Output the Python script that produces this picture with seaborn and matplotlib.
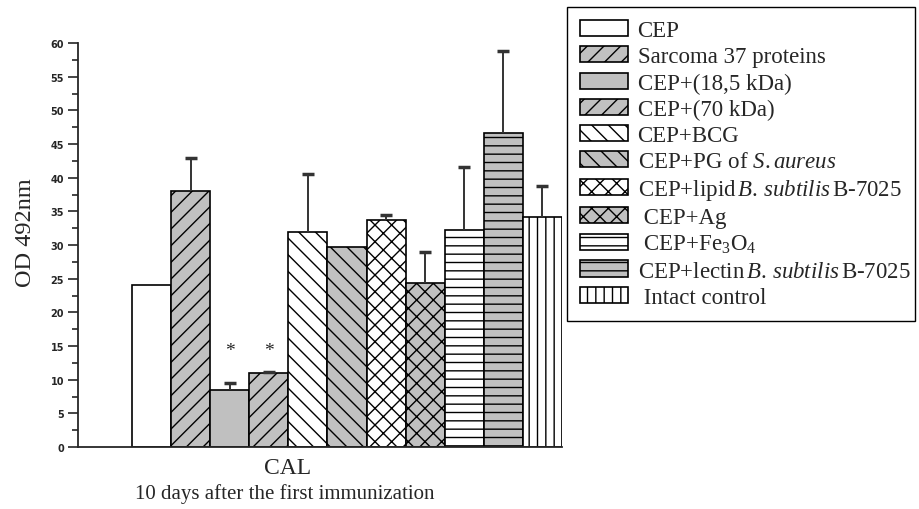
import numpy as np
import pandas as pd
import seaborn as sns
import matplotlib.pyplot as plt
from matplotlib.patches import Patch

# Datos (OD 492nm, CAL, 10 dias tras la primera inmunizacion)
grupos = ["CEP", "Sarcoma 37 proteins", "CEP+(18,5 kDa)", "CEP+(70 kDa)", "CEP+BCG",
          "CEP+PG of S.aureus", "CEP+lipid B.subtilis B-7025", "CEP+Ag", "CEP+Fe3O4",
          "CEP+lectin B.subtilis B-7025", "Intact control"]
valores = [24.0, 38.0, 8.5, 11.0, 31.9, 29.7, 33.7, 24.4, 32.2, 46.6, 34.2]
err_sup = [np.nan, 42.9, 9.5, 11.2, 40.5, np.nan, 34.5, 29.0, 41.6, 58.8, 38.8]
etiquetas = ["CEP", "Sarcoma 37 proteins", "CEP+(18,5 kDa)", "CEP+(70 kDa)", "CEP+BCG",
             r"CEP+PG of $\mathit{S.aureus}$",
             r"CEP+lipid$\,\mathit{B.\,subtilis}\,$B-7025",
             " CEP+Ag", r" CEP+Fe$_3$O$_4$",
             r"CEP+lectin$\,\mathit{B.\,subtilis}\,$B-7025", " Intact control"]
colores = ["white", "#c0c0c0", "#c0c0c0", "#c0c0c0", "white", "#c0c0c0",
           "white", "#c0c0c0", "white", "#c0c0c0", "white"]
tramas = ["", "//", "", "//", "\\\\", "\\\\", "xx", "xx", "--", "--", "||"]
asteriscos = [2, 3]

sns.set_style("ticks")
plt.rcParams["font.family"] = ["Liberation Serif", "DejaVu Serif"]
plt.rcParams["mathtext.fontset"] = "custom"
plt.rcParams["mathtext.rm"] = "Liberation Serif"
plt.rcParams["mathtext.it"] = "Liberation Serif:italic"
plt.rcParams["hatch.linewidth"] = 1.0

df = pd.DataFrame({"grupo": grupos, "valor": valores})

fig = plt.figure(figsize=(9.2, 5.1), dpi=100)
ax = fig.add_axes([78 / 920, 62 / 510, 484 / 920, 404 / 510])

sns.barplot(data=df, x="grupo", y="valor", hue="grupo", palette=colores,
            width=1.0, edgecolor="black", linewidth=1.2, legend=False, ax=ax)
for barra, trama in zip(ax.patches, tramas):
    barra.set_hatch(trama)

# Barras de error (solo la parte superior)
x = np.arange(len(grupos))
err = np.array(err_sup) - np.array(valores)
eb = ax.errorbar(x, valores, yerr=[np.zeros(len(x)), err], fmt="none", ecolor="#333333",
                 elinewidth=1.4, capsize=4, capthick=2.5)
eb[1][0].set_visible(False)  # ocultar el tope inferior

for i in asteriscos:
    ax.text(i, 14.3, "*", ha="center", va="center", fontsize=14)

ax.set_ylim(0, 60)
ax.set_xlim(-1.88, 10.5)
ax.set_yticks(np.arange(0, 61, 5))
ax.set_yticks(np.arange(0, 61, 2.5), minor=True)
ax.tick_params(axis="y", which="major", length=7, width=1.2, pad=3, labelsize=7)
ax.tick_params(axis="y", which="minor", length=4, width=1.2)
for lab in ax.get_yticklabels():
    lab.set_fontfamily("DejaVu Sans")
    lab.set_fontweight("bold")

ax.set_xticks([3.47])
ax.set_xticklabels(["CAL"], fontsize=17)
ax.tick_params(axis="x", length=0, pad=7)
ax.set_xlabel("10 days after the first immunization", fontsize=15)
ax.xaxis.set_label_coords(0.428, -0.09)
ax.set_ylabel("OD 492nm", fontsize=17.5)
ax.yaxis.set_label_coords(-0.087, 0.533)
sns.despine(ax=ax)
for s in ["left", "bottom"]:
    ax.spines[s].set_linewidth(1.3)

handles = [Patch(facecolor=c, edgecolor="black", hatch=h, linewidth=1.2)
           for c, h in zip(colores, tramas)]
fig.legend(handles, etiquetas, loc="upper left",
           bbox_to_anchor=(567 / 920, 1 - 322 / 510, 348 / 920, 314 / 510), mode="expand",
           fontsize=16.5, frameon=True, fancybox=False, edgecolor="black",
           framealpha=1, labelspacing=0.22, handlelength=2.1, handleheight=0.7,
           handletextpad=0.4, borderpad=0.58, borderaxespad=0)

fig.savefig("out.png", dpi=100)
